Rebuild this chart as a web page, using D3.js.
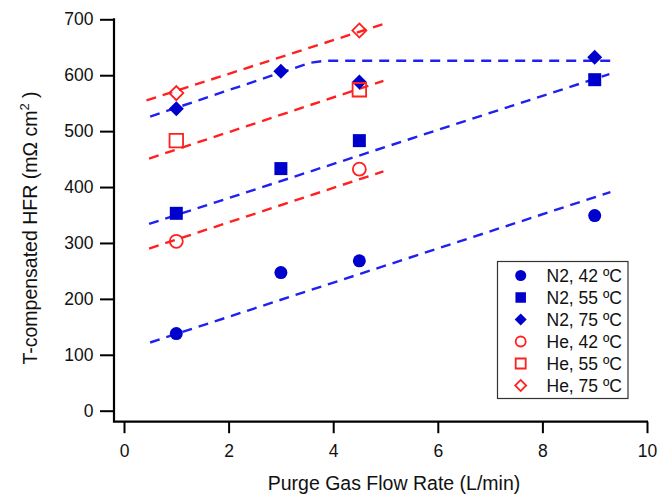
<!DOCTYPE html>
<html>
<head>
<meta charset="utf-8">
<script src="https://cdn.jsdelivr.net/npm/d3@7"></script>
<style>
  html, body { margin: 0; padding: 0; background: #fff; }
  svg { display: block; font-family: "Liberation Sans", Arial, sans-serif; }
</style>
</head>
<body>
<svg id="chart" width="670" height="495"></svg>
<script>
// ---- data ----
const xTicks = [0, 2, 4, 6, 8, 10];
const yTicks = [0, 100, 200, 300, 400, 500, 600, 700];

const flowN2 = [1, 3, 4.5, 9];
const flowHe = [1, 4.5];

const n2_42 = [138, 247, 268, 349];
const n2_55 = [353, 433, 483, 592];
const n2_75 = [540, 607, 588, 632];
const he_42 = [303, 432];
const he_55 = [483, 574];
const he_75 = [568, 680];

// dashed guide lines [flow, HFR]
const fitN2_42 = [[0.5, 122], [9.3, 391]];
const fitN2_55 = [[0.48, 334], [9.28, 602]];
const fitN2_75 = [[0.5, 526], [3.55, 622], [3.85, 626], [9.3, 626]];
const fitHe_42 = [[0.48, 290], [4.96, 428]];
const fitHe_55 = [[0.48, 451], [4.96, 590]];
const fitHe_75 = [[0.43, 555], [4.94, 691]];

const legendLabels = ["N2, 42 ºC", "N2, 55 ºC", "N2, 75 ºC", "He, 42 ºC", "He, 55 ºC", "He, 75 ºC"];

// ---- drawing ----
const BLUE_M = "#0000cc", BLUE_L = "#2020f0", RED = "#ff2020";
const svg = d3.select("#chart");
const x = d3.scaleLinear().domain([0, 10]).range([124, 647]);
const y = d3.scaleLinear().domain([0, 700]).range([410.7, 19.3]);
const axisX0 = 114, axisY0 = 421.7;

// axes
const gy = svg.append("g").attr("transform", `translate(${axisX0},0)`)
  .call(d3.axisLeft(y).tickValues(yTicks).tickSize(14).tickPadding(6.5).tickFormat(d3.format("d")));
gy.select(".domain").remove();
gy.selectAll(".tick line").attr("stroke", "#000").attr("stroke-width", 2);
gy.selectAll(".tick text").attr("font-size", 17.5).attr("fill", "#111").attr("font-family", "Liberation Sans, Arial, sans-serif");

const gx = svg.append("g").attr("transform", `translate(0,${axisY0})`)
  .call(d3.axisBottom(x).tickValues(xTicks).tickSize(11.5).tickPadding(11.5).tickFormat(d3.format("d")));
gx.select(".domain").remove();
gx.selectAll(".tick line").attr("stroke", "#000").attr("stroke-width", 2);
gx.selectAll(".tick text").attr("font-size", 17.5).attr("fill", "#111").attr("font-family", "Liberation Sans, Arial, sans-serif");

svg.append("path")
  .attr("d", `M${axisX0},${y(700) - 1}V${axisY0}H${x(10) + 1}`)
  .attr("fill", "none").attr("stroke", "#000").attr("stroke-width", 2.2);

// axis titles
svg.append("text").attr("x", 394).attr("y", 490).attr("text-anchor", "middle")
  .attr("font-size", 19.5).attr("fill", "#111").text("Purge Gas Flow Rate (L/min)");

const yl = svg.append("text").attr("transform", "translate(37,228) rotate(-90)")
  .attr("text-anchor", "middle").attr("font-size", 19.5).attr("fill", "#111");
yl.append("tspan").text("T-compensated HFR (mΩ cm");
yl.append("tspan").attr("font-size", 13).attr("dy", -8).text("2");
yl.append("tspan").attr("dy", 8).text(" )");

// dashed lines
const line = d3.line().x(d => x(d[0])).y(d => y(d[1]));
[[fitN2_42, BLUE_L], [fitN2_55, BLUE_L], [fitN2_75, BLUE_L],
 [fitHe_42, RED], [fitHe_55, RED], [fitHe_75, RED]].forEach(([pts, c]) => {
  svg.append("path").attr("d", line(pts)).attr("fill", "none")
    .attr("stroke", c).attr("stroke-width", 2.4).attr("stroke-dasharray", "10,7")
    .attr("stroke-linejoin", "round");
});

// markers
const shapes = {
  circle: s => d3.symbol(d3.symbolCircle, Math.PI * s * s / 4)(),
  square: s => d3.symbol(d3.symbolSquare, s * s)(),
  diamond: s => d3.symbol(d3.symbolSquare, (s * s) / 2)()
};
function marker(g, kind, size, filled, color) {
  const p = g.append("path").attr("d", shapes[kind](size));
  if (kind === "diamond") p.attr("transform", "rotate(45)");
  if (filled) p.attr("fill", color).attr("stroke", "none");
  else p.attr("fill", "none").attr("stroke", color).attr("stroke-width", 1.8);
  return p;
}
const series = [
  { xs: flowN2, ys: n2_42, kind: "circle", filled: true, color: BLUE_M, size: 13, ls: 11 },
  { xs: flowN2, ys: n2_55, kind: "square", filled: true, color: BLUE_M, size: 13, ls: 10.5 },
  { xs: flowN2, ys: n2_75, kind: "diamond", filled: true, color: BLUE_M, size: 15, ls: 12 },
  { xs: flowHe, ys: he_42, kind: "circle", filled: false, color: RED, size: 13, ls: 10 },
  { xs: flowHe, ys: he_55, kind: "square", filled: false, color: RED, size: 13.5, ls: 10 },
  { xs: flowHe, ys: he_75, kind: "diamond", filled: false, color: RED, size: 14, ls: 11 }
];
series.forEach(s => {
  s.xs.forEach((fx, i) => {
    const g = svg.append("g").attr("transform", `translate(${x(fx)},${y(s.ys[i])})`);
    marker(g, s.kind, s.size, s.filled, s.color);
  });
});

// legend
svg.append("rect").attr("x", 497.5).attr("y", 261.5).attr("width", 130.5).attr("height", 137)
  .attr("fill", "#fff").attr("stroke", "#333").attr("stroke-width", 1.2);
series.forEach((s, i) => {
  const cy = 275.5 + i * 22;
  const g = svg.append("g").attr("transform", `translate(520.7,${cy})`);
  marker(g, s.kind, s.ls, s.filled, s.color);
  svg.append("text").attr("x", 546.5).attr("y", cy + 6).attr("font-size", 17.5)
    .attr("fill", "#111").text(legendLabels[i]);
});
</script>
</body>
</html>
